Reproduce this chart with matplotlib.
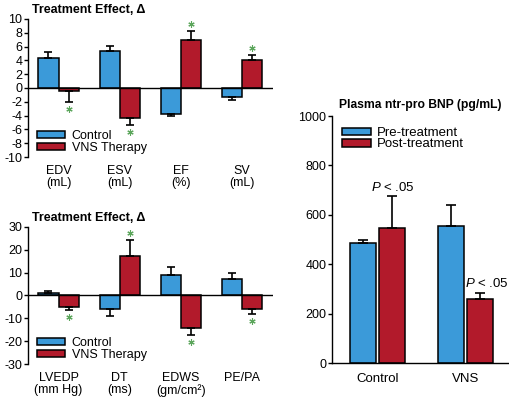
import matplotlib
matplotlib.use("Agg")
import matplotlib.pyplot as plt
import matplotlib.transforms as mtransforms
import numpy as np

plt.rcParams['font.family'] = ['Liberation Sans', 'DejaVu Sans']
plt.rcParams['mathtext.fontset'] = 'custom'
plt.rcParams['mathtext.it'] = 'Liberation Sans:italic'
plt.rcParams['mathtext.rm'] = 'Liberation Sans'
plt.rcParams['axes.unicode_minus'] = False

BLUE = '#3b9ad9'
RED = '#b21a2b'
STAR = '#5ca65c'

# top-left panel: volumes / EF
top_labels = ['EDV\n(mL)', 'ESV\n(mL)', 'EF\n(%)', 'SV\n(mL)']
top_control = [4.3, 5.3, -3.8, -1.3]
top_control_err = [0.9, 0.8, 0.3, 0.4]
top_vns = [-0.5, -4.4, 7.0, 4.0]
top_vns_err = [1.5, 1.0, 1.3, 0.8]
top_star = [True, True, True, True]

# bottom-left panel
bot_labels = ['LVEDP\n(mm Hg)', 'DT\n(ms)', 'EDWS\n(gm/cm²)', 'PE/PA']
bot_control = [1.2, -6.0, 8.8, 7.2]
bot_control_err = [0.8, 3.2, 3.7, 2.4]
bot_vns = [-5.0, 17.0, -14.2, -6.0]
bot_vns_err = [1.2, 7.0, 3.0, 2.0]
bot_star = [True, True, True, True]

# right panel: NT-proBNP
bnp_groups = ['Control', 'VNS']
bnp_pre = [487, 556]
bnp_pre_err = [13, 84]
bnp_post = [548, 260]
bnp_post_err = [127, 23]
bnp_note = ['$P$ < .05', '$P$ < .05']


def one_sided(vals, errs):
    vals = np.array(vals)
    errs = np.array(errs)
    lo = np.where(vals < 0, errs, 0)
    hi = np.where(vals >= 0, errs, 0)
    return [lo, hi]


def effect_panel(ax, labels, ctrl, ctrl_err, vns, vns_err, stars, ylim, step):
    x = np.arange(len(labels))
    w = 0.33
    ax.bar(x - w / 2, ctrl, w, color=BLUE, edgecolor='black', linewidth=1.1,
           label='Control', zorder=2)
    ax.bar(x + w / 2, vns, w, color=RED, edgecolor='black', linewidth=1.1,
           label='VNS Therapy', zorder=2)
    ax.errorbar(x - w / 2, ctrl, yerr=one_sided(ctrl, ctrl_err), fmt='none',
                ecolor='black', elinewidth=1.2, capsize=3, capthick=1.2, zorder=3)
    ax.errorbar(x + w / 2, vns, yerr=one_sided(vns, vns_err), fmt='none',
                ecolor='black', elinewidth=1.2, capsize=3, capthick=1.2, zorder=3)
    # significance asterisks, a few pixels beyond the error bar tip
    up = mtransforms.offset_copy(ax.transData, fig=ax.figure, y=7, units='dots')
    down = mtransforms.offset_copy(ax.transData, fig=ax.figure, y=-7, units='dots')
    for xi, v, e, s in zip(x, vns, vns_err, stars):
        if not s:
            continue
        tip = v + e if v >= 0 else v - e
        ax.plot([xi + w / 2], [tip], marker=(6, 2, 0), ms=4.5, mew=0.8,
                color=STAR, transform=up if v >= 0 else down, clip_on=False)
    ax.axhline(0, color='black', lw=1, zorder=4)
    ax.set_xlim(-0.5, 3.5)
    ax.set_ylim(*ylim)
    ax.set_yticks(np.arange(ylim[0], ylim[1] + 1, step))
    ax.set_xticks(x)
    ax.set_xticklabels(labels, fontsize=9, linespacing=1.0)
    ax.tick_params(axis='x', length=0, pad=6)
    ax.tick_params(axis='y', direction='out', length=3, width=1, labelsize=9, pad=1)
    for s in ['top', 'right', 'bottom']:
        ax.spines[s].set_visible(False)
    ax.spines['left'].set_linewidth(1)
    ax.set_title('Treatment Effect, Δ', fontsize=9, fontweight='bold',
                 loc='left', x=0.015, pad=4)
    ax.legend(loc='lower left', bbox_to_anchor=(0.035, 0.025), frameon=False,
              fontsize=9, handlelength=2.3, handleheight=0.5, labelspacing=0.0,
              borderpad=0, borderaxespad=0, handletextpad=0.5)


fig = plt.figure(figsize=(5.09, 3.99), dpi=100)
ax1 = fig.add_axes([0.055, 0.6065, 0.481, 0.346])
ax2 = fig.add_axes([0.055, 0.0877, 0.481, 0.344])
ax3 = fig.add_axes([0.652, 0.0902, 0.348, 0.619])

effect_panel(ax1, top_labels, top_control, top_control_err, top_vns, top_vns_err,
             top_star, (-10, 10), 2)
effect_panel(ax2, bot_labels, bot_control, bot_control_err, bot_vns, bot_vns_err,
             bot_star, (-30, 30), 10)

# right panel
xb = np.arange(len(bnp_groups))
bw = 0.297
d = 0.166
ax3.bar(xb - d, bnp_pre, bw, color=BLUE, edgecolor='black', linewidth=1.1,
        label='Pre-treatment', zorder=2)
ax3.bar(xb + d, bnp_post, bw, color=RED, edgecolor='black', linewidth=1.1,
        label='Post-treatment', zorder=2)
ax3.errorbar(xb - d, bnp_pre, yerr=[np.zeros(2), bnp_pre_err], fmt='none',
             ecolor='black', elinewidth=1.2, capsize=3.5, capthick=1.2, zorder=3)
ax3.errorbar(xb + d, bnp_post, yerr=[np.zeros(2), bnp_post_err], fmt='none',
             ecolor='black', elinewidth=1.2, capsize=3.5, capthick=1.2, zorder=3)
for i, (v, e, txt) in enumerate(zip(bnp_post, bnp_post_err, bnp_note)):
    dx = 1 if i == 0 else 5
    ax3.annotate(txt, (xb[i] + d, v + e), xytext=(dx, 2), textcoords='offset points',
                 ha='center', va='bottom', fontsize=9.5)
ax3.set_xlim(-0.52, 1.50)
ax3.set_ylim(0, 1000)
ax3.set_yticks(np.arange(0, 1001, 200))
ax3.set_xticks(xb)
ax3.set_xticklabels(bnp_groups, fontsize=9.5)
ax3.tick_params(axis='x', length=0, pad=7)
ax3.tick_params(axis='y', direction='out', length=3, width=1, labelsize=9, pad=1)
for s in ['top', 'right']:
    ax3.spines[s].set_visible(False)
ax3.spines['left'].set_linewidth(1)
ax3.spines['bottom'].set_linewidth(1)
ax3.set_title('Plasma ntr-pro BNP (pg/mL)', fontsize=8.7, fontweight='bold',
              loc='left', x=0.04, pad=6)
ax3.legend(loc='upper left', bbox_to_anchor=(0.055, 0.955), frameon=False,
           fontsize=9.5, handlelength=2.2, handleheight=0.55, labelspacing=-0.05,
           borderpad=0, borderaxespad=0, handletextpad=0.5)

fig.savefig('out.png', dpi=100)
